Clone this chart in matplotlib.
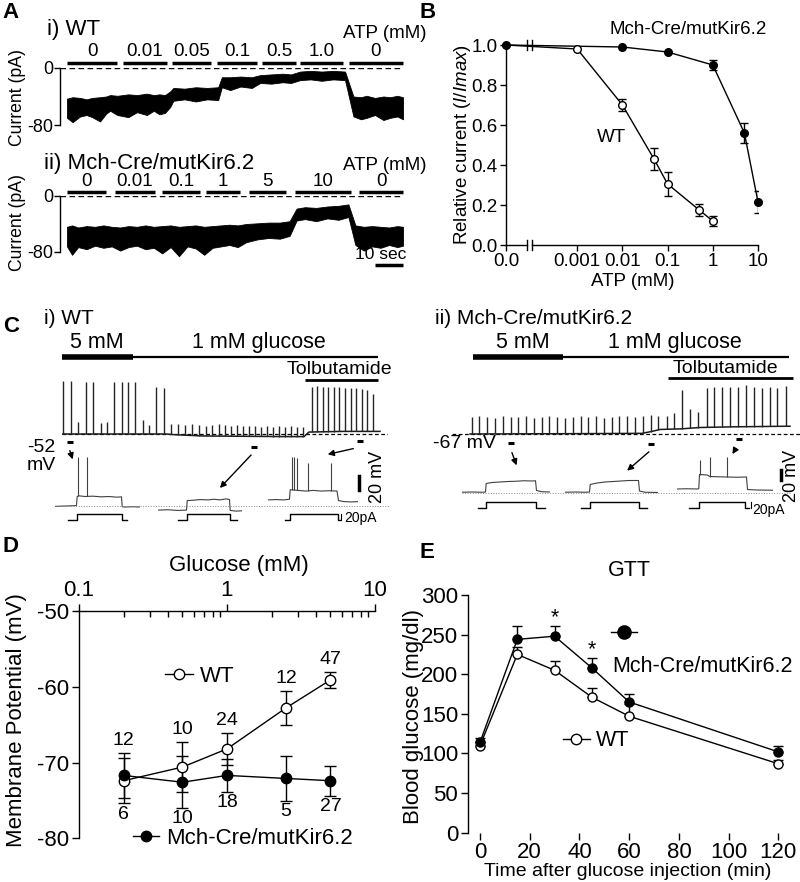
import numpy as np
import matplotlib
matplotlib.use("Agg")
import matplotlib.pyplot as plt
from matplotlib.lines import Line2D
from matplotlib.patches import FancyArrowPatch
from matplotlib.ticker import NullLocator, NullFormatter

plt.rcParams['font.family'] = ['Liberation Sans', 'DejaVu Sans']
plt.rcParams['axes.unicode_minus'] = False
plt.rcParams['mathtext.fontset'] = 'custom'
plt.rcParams['mathtext.it'] = 'Liberation Sans:italic'
plt.rcParams['mathtext.rm'] = 'Liberation Sans'
plt.rcParams['axes.linewidth'] = 1.0

# ---------------- data ----------------
# A) ATP applications (s) and single-channel current traces (upper / lower edge, pA)
atp_wt_lab = ['0', '0.01', '0.05', '0.1', '0.5', '1.0', '0']
atp_wt_on = [0, 20, 37.5, 53.6, 69.6, 83.2, 100.7]
atp_wt_off = [17.9, 35.7, 51.4, 67.9, 81.8, 98.6, 120]
atp_mut_lab = ['0', '0.01', '0.1', '1', '5', '10', '0']
atp_mut_on = [0, 17.1, 33.9, 49.6, 65, 81.4, 104.3]
atp_mut_off = [13.9, 31.4, 47.5, 61.8, 78.2, 101.4, 120]

wt_t = [0, 2, 4.7, 7, 9, 11.8, 14, 15.4, 18, 21.9, 25, 28.5, 31, 33, 35, 36.8, 38, 42, 46, 50,
        54, 55.3, 58.3, 62, 66, 69, 73, 77, 80, 83.3, 87, 91, 95, 99.3, 102.3, 105, 107, 110,
        113, 115.4, 118, 120]
wt_hi = [-43, -41, -42, -44, -42, -41, -40, -38, -39, -37, -38, -36, -38, -37, -38, -33, -28, -29,
         -27, -28, -27, -13, -13, -12, -13, -10, -9, -8, -9, -5, -4, -5, -4, -5, -40, -41, -39,
         -42, -40, -41, -39, -41]
wt_lo = [-70, -76, -68, -66, -69, -75, -64, -60, -66, -69, -62, -66, -60, -65, -63, -55, -46, -44,
         -47, -44, -45, -27, -31, -26, -28, -21, -22, -20, -21, -17, -16, -18, -16, -17, -68, -72,
         -70, -66, -73, -70, -68, -72]
mut_t = [0, 1.8, 4, 7, 10, 13, 16, 19, 22, 25, 28, 31, 34, 37, 40, 43, 46, 49, 52, 55, 58, 61,
         64, 68, 72, 76, 79.5, 82, 85, 89, 93, 97, 100.5, 103, 106, 109, 112, 115, 118, 120]
mut_hi = [-44, -42, -45, -43, -44, -42, -44, -45, -43, -44, -42, -44, -43, -42, -44, -43, -42, -44,
          -43, -42, -41, -42, -40, -39, -38, -38, -36, -18, -16, -17, -15, -14, -12, -42, -44, -43,
          -44, -45, -43, -44]
mut_lo = [-72, -84, -73, -76, -71, -74, -72, -78, -73, -71, -76, -74, -82, -73, -86, -72, -75, -84,
          -74, -72, -70, -73, -66, -62, -60, -61, -57, -35, -33, -36, -32, -34, -30, -70, -78, -72,
          -74, -70, -73, -71]

# B) ATP dose response
atp_b_wt = np.array([0, 0.001, 0.01, 0.05, 0.1, 0.5, 1])
rel_wt = np.array([1.0, 0.98, 0.70, 0.43, 0.305, 0.175, 0.12])
rel_wt_err = np.array([0, 0, 0.03, 0.055, 0.058, 0.03, 0.025])
atp_b_mut = np.array([0, 0.01, 0.1, 1, 5, 10])
rel_mut = np.array([1.0, 0.99, 0.965, 0.90, 0.56, 0.215])
rel_mut_err = np.array([0, 0, 0, 0.025, 0.05, 0.055])
atp_ticks = [0, 0.001, 0.01, 0.1, 1, 10]
atp_ticklabels = ['0.0', '0.001', '0.01', '0.1', '1', '10']

# C) current-clamp recordings (s, mV)
ci_base_t = [0, 52, 56, 70, 110, 121, 123.5, 140, 159]
ci_base_v = [-52, -52, -53, -55, -56, -56, -49, -48, -48]
ci_spk_t = [0.7, 4.3, 8.2, 12, 15.5, 19.4, 22.7, 26.2, 29.8, 33.2, 36.5, 40.4, 43.7, 47, 51.2,
            54.3, 57.8, 61.5, 64.8, 68.5, 71.8, 75.2, 78.5, 81.5, 84.5, 87.5, 90.5, 93.5, 96.5,
            99.5, 102.5, 105.5, 108.5, 111.5, 114.5, 117.5, 120.5,
            124.8, 127.7, 130.3, 133.2, 136, 138.7, 141.5, 144.3, 147, 149.8, 152.7, 155.3]
ci_spk_v = [29, 29, -33, 28, 28, -35, -33, 28, 28, 28, 28, -31, -38, 21, 19,
            -36, -37, -38, -37, -38, -39, -38, -37, -38, -39, -38, -40, -39, -40, -41, -40, -41,
            -40, -41, -40, -42, -41,
            21, 22, 21, 21, 20, 20, 19, 19, 18, 17, 15, 10]
ci_glc5 = (0, 35.3)
ci_glc1 = (35.3, 158.2)
ci_tolb = (121.5, 158.2)
ci_mark_t = [4, 96, 149]
ci_mark_v = [-64, -72, -63]

cii_base_t = [9, 60, 95, 100, 104, 115, 124, 140, 169]
cii_base_v = [-67, -66.5, -66, -63, -60, -59, -57, -56, -55]
cii_spk_t = [9.9, 13.7, 17.7, 21.5, 25.4, 29.4, 33.2, 37, 41, 44.9, 48.7, 52.7, 56.5, 60.4, 64.4,
             68.2, 72, 76, 79.9, 83.7, 87.7, 91.5, 95.4, 99.4, 103.2, 107.4, 111.2, 115.2, 119,
             123.2, 127.4, 131, 135.2, 139, 143.2, 147, 151, 154.9, 159, 162.7, 167]
cii_spk_v = [-41, -40, -41, -42, -40, -41, -41, -40, -42, -41, -40, -41, -42, -41, -40, -41, -40,
             -42, -41, -40, -39, -41, -40, -38, -39, -39, -35, 0, -28, -33, 3, 6, 6, 6, 6, 8, 6,
             3, 6, 3, 7]
cii_glc5 = (10.5, 55.5)
cii_glc1 = (55.5, 168.5)
cii_tolb = (108, 170.5)
cii_mark_t = [29.5, 99.5, 143.5]
cii_mark_v = [-81, -82.5, -75]

# C insets: responses to current steps (ms, mV)
ci_sw_t = [[0, 100, 200, 215, 222, 240, 300, 380, 460, 540, 620, 665, 672, 700, 780, 850],
           [0, 100, 200, 285, 292, 350, 420, 500, 560, 620, 680, 715, 722, 780, 840],
           [0, 80, 160, 215, 222, 300, 380, 450, 530, 610, 690, 705, 760, 830, 900]]
ci_sw_v = [[-52.5, -52, -51.5, -51, -38, -37, -38, -37.5, -38.5, -38, -39, -38.5, -53, -53.5, -53, -53.5],
           [-58, -57.5, -58.5, -58, -44, -43.5, -42.5, -43, -42, -43, -41.5, -42.5, -58.5, -59.5, -59],
           [-43, -42.5, -43, -42, -28, -29, -30, -29, -30, -29.5, -30, -44, -45.5, -46, -45.5]]
ci_sw_spk_t = [[232, 315], [], [243, 263, 287, 403, 630]]
ci_sw_spk_v = [[20.5, 20], [], [20.5, 20.5, 18, 11, 11]]
ci_step = [(218, 668), (288, 718), (218, 700)]
ci_cur_span = [(130, 720), (203, 787), (170, 720)]

cii_sw_t = [[0, 100, 200, 235, 242, 300, 380, 460, 540, 620, 700, 735, 745, 800, 880],
            [0, 100, 200, 245, 252, 320, 400, 480, 560, 640, 735, 745, 800, 930],
            [0, 100, 210, 218, 225, 300, 330, 400, 500, 600, 695, 705, 800, 960]]
cii_sw_v = [[-65.5, -65, -65.5, -65, -48, -46, -45, -44, -43.5, -42.5, -43, -42.5, -62, -64.5, -65],
            [-65.5, -65, -65.5, -65, -50, -47, -45, -44, -43, -42, -42, -63, -65.5, -66],
            [-59, -58.5, -59, -58, -30, -31, -34, -34.5, -35, -35.5, -35, -60, -61, -61.5]]
cii_sw_spk_t = [[], [], [230, 330, 500]]
cii_sw_spk_v = [[], [], [-1, 5, 5]]
cii_step = [(240, 740), (250, 740), (220, 680)]
cii_cur_span = [(160, 830), (160, 820), (120, 720)]

# D) membrane potential vs glucose
gluc = [0.2, 0.5, 1, 2.5, 5]
vm_wt = np.array([-72.4, -70.6, -68.2, -62.8, -59.1])
vm_wt_err = np.array([3.0, 3.3, 2.1, 2.3, 1.1])
vm_mut = np.array([-71.7, -72.6, -71.7, -72.1, -72.4])
vm_mut_err = np.array([3.0, 3.4, 2.2, 3.0, 2.0])
n_wt = [12, 10, 24, 12, 47]
n_mut = [6, 10, 18, 5, 27]

# E) glucose tolerance test
gtt_t = np.array([0, 15, 30, 45, 60, 120])
bg_mut = np.array([114, 244, 248, 208, 165, 102])
bg_mut_err = np.array([6, 17, 13, 13, 10, 8])
bg_wt = np.array([110, 225, 205, 171, 147, 87])
bg_wt_err = np.array([4, 10, 12, 12, 15, 5])
sig_idx = [2, 3]

# ---------------- figure ----------------
W, H = 800, 882
fig = plt.figure(figsize=(W / 100, H / 100), dpi=100)


def box(x0, y0, x1, y1):
    return fig.add_axes([x0 / W, 1 - y1 / H, (x1 - x0) / W, (y1 - y0) / H])


def ftext(x, y, s, **kw):
    kw.setdefault('va', 'center')
    return fig.text(x / W, 1 - y / H, s, **kw)


def acoords(ax, px, py):
    pos = ax.get_position()
    return ((px / W - pos.x0) / pos.width, ((1 - py / H) - pos.y0) / pos.height)


def arrow(x0, y0, x1, y1):
    fig.add_artist(FancyArrowPatch((x0 / W, 1 - y0 / H), (x1 / W, 1 - y1 / H),
                                   transform=fig.transFigure, arrowstyle='-|>',
                                   mutation_scale=9, lw=1, color='k'))


def hline_fig(x0, x1, y, **kw):
    fig.add_artist(Line2D([x0 / W, x1 / W], [1 - y / H, 1 - y / H], transform=fig.transFigure, **kw))


# ---- A
def current_axes(y0, y1):
    ax = box(60, y0, 403, y1)
    ax.set_xlim(-2.5, 120)
    ax.set_ylim(-80, 0)
    for s in ('top', 'right', 'bottom'):
        ax.spines[s].set_visible(False)
    ax.set_xticks([])
    ax.set_yticks([0, -80])
    ax.tick_params(axis='y', labelsize=13, length=4, width=1, pad=1)
    ax.axhline(0, color='k', lw=1, ls=(0, (4, 2.5)), zorder=1)
    return ax


ftext(2, 13, 'A', fontsize=16, fontweight='bold')
axa1 = current_axes(68, 125)
axa1.fill_between(wt_t, wt_lo, wt_hi, color='k', lw=0.6, clip_on=False)
for on, off, lab in zip(atp_wt_on, atp_wt_off, atp_wt_lab):
    axa1.plot([on, off], [7, 7], color='k', lw=2.5, solid_capstyle='butt', clip_on=False)
    axa1.text((on + off) / 2, 22.5, lab, ha='center', va='center', fontsize=13.5)
axa1.set_ylabel('Current (pA)', fontsize=12.7, va='center')
axa1.yaxis.set_label_coords(*acoords(axa1, 17, 98))
ftext(47, 30, 'i) WT', fontsize=16)
ftext(343, 33, 'ATP (mM)', fontsize=13.5)

axa2 = current_axes(196, 252)
axa2.fill_between(mut_t, mut_lo, mut_hi, color='k', lw=0.6, clip_on=False)
for on, off, lab in zip(atp_mut_on, atp_mut_off, atp_mut_lab):
    axa2.plot([on, off], [5.7, 5.7], color='k', lw=2.5, solid_capstyle='butt', clip_on=False)
    axa2.text((on + off) / 2, 21.4, lab, ha='center', va='center', fontsize=13.5)
axa2.set_ylabel('Current (pA)', fontsize=12.7, va='center')
axa2.yaxis.set_label_coords(*acoords(axa2, 17, 222))
axa2.plot([110, 120], [-98, -98], color='k', lw=2.5, solid_capstyle='butt', clip_on=False)
axa2.text(103, -83, '10 sec', fontsize=12.5, va='center')
ftext(44, 163, 'ii) Mch-Cre/mutKir6.2', fontsize=16)
ftext(343, 165, 'ATP (mM)', fontsize=13.5)

# ---- B
ftext(419, 13, 'B', fontsize=16, fontweight='bold')
axb = box(506, 45, 758, 245)
axb.set_xscale('symlog', linthresh=1e-4, linscale=0.518)
axb.set_xlim(0, 10)
axb.set_ylim(0, 1)
axb.spines['top'].set_visible(False)
axb.spines['right'].set_visible(False)
axb.spines['bottom'].set_bounds(0, 0.8e-4)
axb.plot([1e-4, 10], [0, 0], color='k', lw=1, transform=axb.get_xaxis_transform(), clip_on=False)
for xb in (0.8e-4, 1e-4):
    axb.plot([xb, xb], [-0.025, 0.025], color='k', lw=1, transform=axb.get_xaxis_transform(), clip_on=False)
    axb.plot([xb, xb], [0.975, 1.025], color='k', lw=1, clip_on=False)
axb.set_xticks(atp_ticks)
axb.set_xticklabels(atp_ticklabels)
axb.xaxis.set_minor_locator(NullLocator())
axb.set_yticks([0, 0.2, 0.4, 0.6, 0.8, 1.0])
axb.set_yticklabels(['0.0', '0.2', '0.4', '0.6', '0.8', '1.0'])
axb.tick_params(labelsize=13.5, length=4, width=1, pad=2)
axb.plot(atp_b_mut, rel_mut, color='k', lw=1, zorder=2, clip_on=False)
axb.plot(atp_b_wt, rel_wt, color='k', lw=1, zorder=2, clip_on=False)
m = rel_wt_err > 0
axb.errorbar(atp_b_wt[m], rel_wt[m], yerr=rel_wt_err[m], fmt='none', ecolor='k', elinewidth=1, capsize=3, zorder=3)
axb.plot(atp_b_wt[1:], rel_wt[1:], 'o', ms=5.5, mfc='white', mec='k', mew=1, zorder=4, clip_on=False)
m = rel_mut_err > 0
axb.errorbar(atp_b_mut[m], rel_mut[m], yerr=rel_mut_err[m], fmt='none', ecolor='k', elinewidth=1, capsize=3, zorder=3)
axb.plot(atp_b_mut, rel_mut, 'o', ms=5.5, color='k', zorder=5, clip_on=False)
axb.text(2.7e-3, 0.535, 'WT', fontsize=13.5, va='center')
axb.text(5.3e-3, 1.075, 'Mch-Cre/mutKir6.2', fontsize=13.5, va='center')
axb.set_ylabel(r'Relative current ($\it{I/Imax}$)', fontsize=13.5, va='center')
axb.yaxis.set_label_coords(*acoords(axb, 463, 145))
axb.set_xlabel('ATP (mM)', fontsize=13.5, va='center')
axb.xaxis.set_label_coords(*acoords(axb, 633, 282))

# ---- C
ftext(3, 326, 'C', fontsize=16, fontweight='bold')


def main_trace(x0, x1, tmax, vbase, bt, bv, st, sv, glc5, glc1, tolb, mt, mv, ty_tolb, uy_tolb, labs):
    ax = box(x0, 380, x1, 450)
    ax.set_xlim(0, tmax)
    ax.set_ylim(vbase - 16 / 0.65, vbase + 54 / 0.65)
    ax.axis('off')
    ax.axhline(vbase, color='k', lw=0.9, ls=(0, (3, 2)))
    ax.plot(bt, bv, color='0.1', lw=1.1)
    base = np.interp(st, bt, bv)
    ax.vlines(st, base, sv, color='0.15', lw=1.0)
    for t, v in zip(mt, mv):
        ax.plot([t - 1.3, t + 1.3], [v, v], color='k', lw=2.2, solid_capstyle='butt')
    tr = ax.get_xaxis_transform()
    ax.plot(glc5, [1.333, 1.333], color='k', lw=4, solid_capstyle='butt', transform=tr, clip_on=False)
    ax.plot(glc1, [1.333, 1.333], color='k', lw=1.6, solid_capstyle='butt', transform=tr, clip_on=False)
    ax.plot(tolb, [uy_tolb, uy_tolb], color='k', lw=2, solid_capstyle='butt', transform=tr, clip_on=False)
    ax.text(labs[0], 1.53, '5 mM', ha='center', va='center', fontsize=15.5, transform=tr)
    ax.text(labs[1], 1.53, '1 mM glucose', ha='center', va='center', fontsize=15.5, transform=tr)
    ax.text(labs[2], ty_tolb, 'Tolbutamide', ha='left', va='center', fontsize=14, transform=tr)
    return ax


main_trace(62, 388, 163, -52, ci_base_t, ci_base_v, ci_spk_t, ci_spk_v, ci_glc5, ci_glc1, ci_tolb,
           ci_mark_t, ci_mark_v, 1.143, 1.0, (17.3, 98.5, 112.5))
main_trace(452, 800, 174, -67, cii_base_t, cii_base_v, cii_spk_t, cii_spk_v, cii_glc5, cii_glc1, cii_tolb,
           cii_mark_t, cii_mark_v, 1.171, 1.029, (35.5, 111.5, 110.5))
ftext(44, 318, 'i) WT', fontsize=15)
ftext(435, 318, 'ii) Mch-Cre/mutKir6.2', fontsize=15)
ftext(27, 447, '-52', fontsize=14)
ftext(27, 466, 'mV', fontsize=14)
ftext(433, 443, '-67 mV', fontsize=14)


def sweeps(pxs, vy0, vy1, vlim, cy0, cy1, clim, sw_t, sw_v, spk_t, spk_v, steps, spans):
    axes = []
    for k, (x0, x1) in enumerate(pxs):
        av = box(x0, vy0, x1, vy1)
        av.set_xlim(0, (x1 - x0) * 10)
        av.set_ylim(*vlim)
        av.axis('off')
        av.plot(sw_t[k], sw_v[k], color='0.25', lw=0.8)
        if spk_t[k]:
            base = np.interp(spk_t[k], sw_t[k], sw_v[k])
            av.vlines(spk_t[k], base, spk_v[k], color='0.25', lw=0.8)
        ac = box(x0, cy0, x1, cy1)
        ac.set_xlim(0, (x1 - x0) * 10)
        ac.set_ylim(*clim)
        ac.axis('off')
        on, off = steps[k]
        t0, t1 = spans[k]
        ac.plot([t0, on, on, off, off, t1], [0, 0, 20, 20, 0, 0], color='k', lw=1)
        axes.append((av, ac))
    return axes


ci_ax = sweeps([(55, 140), (158, 242), (268, 358)], 450, 515, (-65.2, 30.4), 510, 524, (-13.3, 33.3),
               ci_sw_t, ci_sw_v, ci_sw_spk_t, ci_sw_spk_v, ci_step, ci_cur_span)
cii_ax = sweeps([(462, 550), (565, 658), (677, 773)], 448, 500, (-81, 23), 500, 512, (-13.3, 26.7),
                cii_sw_t, cii_sw_v, cii_sw_spk_t, cii_sw_spk_v, cii_step, cii_cur_span)
hline_fig(55, 390, 506, color='0.55', lw=0.7, ls=':')
hline_fig(462, 790, 493, color='0.55', lw=0.7, ls=':')

# scale bars
av, ac = ci_ax[2]
av.plot([910, 910], [-28.5, -8.5], color='k', lw=2.5, clip_on=False)
ac.plot([730, 730], [0, 20], color='k', lw=0.8, clip_on=False)
av, ac = cii_ax[2]
av.plot([1040, 1040], [-41, -21], color='k', lw=2.5, clip_on=False)
ac.plot([740, 740], [0, 20], color='k', lw=0.8, clip_on=False)
ftext(377, 477, '20 mV', fontsize=13, rotation=90, ha='center')
ftext(792, 476, '20 mV', fontsize=13, rotation=90, ha='center')
ftext(344, 518, '20pA', fontsize=10)
ftext(752, 510, '20pA', fontsize=10)

arrow(69, 448, 73.5, 462)
arrow(253, 453, 218, 490)
arrow(356, 448, 325, 455)
arrow(511, 450, 517.5, 468)
arrow(651, 450, 625, 472.5)
arrow(737, 446.5, 731, 456.5)

# ---- D
ftext(2, 547, 'D', fontsize=16, fontweight='bold')
axd = box(79, 611, 375, 838.3)
axd.set_xscale('log')
axd.set_xlim(0.1, 10)
axd.set_ylim(-80, -50)
axd.spines['bottom'].set_visible(False)
axd.spines['right'].set_visible(False)
axd.xaxis.tick_top()
axd.xaxis.set_label_position('top')
axd.set_xticks([0.1, 1, 10])
axd.set_xticklabels(['0.1', '1', '10'])
axd.xaxis.set_minor_formatter(NullFormatter())
axd.set_yticks([-50, -60, -70, -80])
axd.tick_params(labelsize=16, length=5, width=1, pad=2)
axd.tick_params(axis='x', which='minor', direction='in', length=4, width=1)
axd.plot(gluc, vm_wt, color='k', lw=1, zorder=2)
axd.plot(gluc, vm_mut, color='k', lw=1, zorder=2)
axd.errorbar(gluc, vm_wt, yerr=vm_wt_err, fmt='none', ecolor='k', elinewidth=1, capsize=4.5, zorder=3)
axd.errorbar(gluc, vm_mut, yerr=vm_mut_err, fmt='none', ecolor='k', elinewidth=1, capsize=4.5, zorder=3)
axd.plot(gluc, vm_wt, 'o', ms=7.5, mfc='white', mec='k', mew=1, zorder=4)
axd.plot(gluc, vm_mut, 'o', ms=7.5, color='k', zorder=5)
top = np.maximum(vm_wt + vm_wt_err, vm_mut + vm_mut_err)
bot = np.minimum(vm_wt - vm_wt_err, vm_mut - vm_mut_err)
for g, y, n in zip(gluc, top, n_wt):
    axd.text(g, y + 0.5, str(n), ha='center', va='bottom', fontsize=14)
for g, y, n in zip(gluc, bot, n_mut):
    axd.text(g, y - 0.3, str(n), ha='center', va='top', fontsize=14)
h_wt = Line2D([], [], color='k', lw=1, marker='o', ms=7.5, mfc='white', mec='k')
h_mut = Line2D([], [], color='k', lw=1, marker='o', ms=7.5, mfc='k', mec='k')
lg = axd.legend([h_wt], ['WT'], loc='center left', bbox_to_anchor=acoords(axd, 165, 676), frameon=False,
                fontsize=16, handlelength=1.25, handletextpad=0.3, borderpad=0, borderaxespad=0)
axd.add_artist(lg)
axd.legend([h_mut], ['Mch-Cre/mutKir6.2'], loc='center left', bbox_to_anchor=acoords(axd, 133, 838),
           frameon=False, fontsize=16, handlelength=1.15, handletextpad=0.35, borderpad=0, borderaxespad=0)
axd.set_ylabel('Membrane Potential (mV)', fontsize=16, va='center')
axd.yaxis.set_label_coords(*acoords(axd, 17, 720))
axd.set_xlabel('Glucose (mM)', fontsize=16, va='center')
axd.xaxis.set_label_coords(*acoords(axd, 239, 565))

# ---- E
ftext(419, 553, 'E', fontsize=16, fontweight='bold')
axe = box(468, 595, 790, 832.7)
axe.set_xlim(-4.83, 124.7)
axe.set_ylim(0, 300)
for s in ('top', 'right', 'bottom'):
    axe.spines[s].set_visible(False)
axe.set_xticks([0, 20, 40, 60, 80, 100, 120])
axe.set_yticks([0, 50, 100, 150, 200, 250, 300])
axe.tick_params(labelsize=16, length=5, width=1, pad=2)
axe.plot(gtt_t, bg_mut, color='k', lw=1, zorder=2)
axe.plot(gtt_t, bg_wt, color='k', lw=1, zorder=2)
z = np.zeros_like(bg_mut)
axe.errorbar(gtt_t, bg_mut, yerr=[z, bg_mut_err], fmt='none', ecolor='k', elinewidth=1, capsize=3.6, zorder=3)
axe.errorbar(gtt_t, bg_wt, yerr=[z, bg_wt_err], fmt='none', ecolor='k', elinewidth=1, capsize=3.6, zorder=3)
axe.plot(gtt_t, bg_wt, 'o', ms=6.5, mfc='white', mec='k', mew=1, zorder=4)
axe.plot(gtt_t, bg_mut, 'o', ms=6.5, color='k', zorder=5)
for i in sig_idx:
    axe.text(gtt_t[i], bg_mut[i] + bg_mut_err[i] - 3, '*', ha='center', va='bottom', fontsize=15.5)
h_mut_e = Line2D([], [], color='k', lw=1, marker='o', ms=9.5, mfc='k', mec='k')
h_wt_e = Line2D([], [], color='k', lw=1, marker='o', ms=7.5, mfc='white', mec='k')
lg = axe.legend([h_mut_e], [''], loc='center left', bbox_to_anchor=acoords(axe, 611, 634), frameon=False,
                fontsize=15.5, handlelength=1.2, handletextpad=0, borderpad=0, borderaxespad=0)
axe.add_artist(lg)
axe.legend([h_wt_e], ['WT'], loc='center left', bbox_to_anchor=acoords(axe, 563, 741), frameon=False,
           fontsize=15.5, handlelength=1.25, handletextpad=0.3, borderpad=0, borderaxespad=0)
axe.text(*acoords(axe, 612, 667), 'Mch-Cre/mutKir6.2', fontsize=15.5, va='center', transform=axe.transAxes)
axe.set_title('GTT', fontsize=15.5, pad=14)
axe.set_ylabel('Blood glucose (mg/dl)', fontsize=16, va='center')
axe.yaxis.set_label_coords(*acoords(axe, 413, 717))
axe.set_xlabel('Time after glucose injection (min)', fontsize=14, va='center')
axe.xaxis.set_label_coords(*acoords(axe, 628, 872))

fig.savefig('out.png', dpi=100, facecolor='white')
